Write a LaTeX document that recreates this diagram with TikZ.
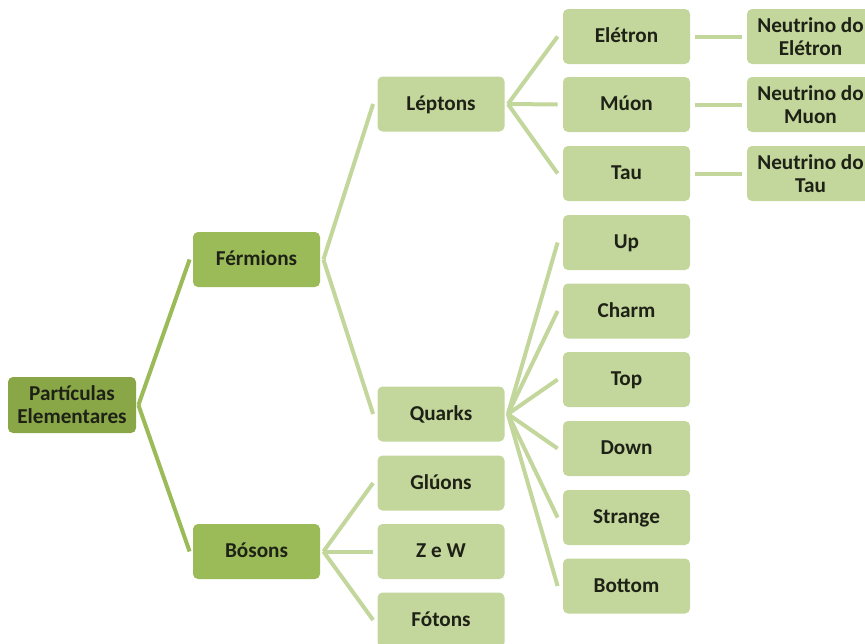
\documentclass[tikz,border=0pt]{standalone}
\usepackage{fontspec}
\setmainfont{Carlito}

\definecolor{verderaiz}{HTML}{8AA748}
\definecolor{verdemedio}{HTML}{9BBB59}
\definecolor{verdeclaro}{HTML}{C3D69B}
\definecolor{textoescuro}{HTML}{1E2116}

\tikzset{
  caixa/.style={rectangle, rounded corners=2.5pt, minimum width=63.5pt, minimum height=27.5pt,
    align=center, inner sep=1pt, text=textoescuro,
    font=\bfseries\fontsize{10.6}{11.4}\selectfont},
  raiz/.style={caixa, fill=verderaiz, minimum width=64pt, minimum height=28pt},
  ramo/.style={caixa, fill=verdemedio, text height=8pt, text depth=2pt},
  folha/.style={caixa, fill=verdeclaro, text height=8pt, text depth=2pt},
  folhadupla/.style={caixa, fill=verdeclaro},
  liga/.style={line width=2pt, draw=verdeclaro},
  ligaraiz/.style={line width=2pt, draw=verdemedio}
}

\begin{document}
\begin{tikzpicture}[x={(0.5pt,0)},y={(0,-0.5pt)}]
\useasboundingbox (0,0) rectangle (865,643);
\begin{scope}
\clip (0,0) rectangle (865,643);
% raiz e primeiro nivel
\node[raiz] (part) at (72,405) {Partículas\\Elementares};
\node[ramo] (ferm) at (256.5,259.5) {Férmions};
\node[ramo] (bos) at (256.5,551.5) {Bósons};
% segundo nivel
\node[folha] (lept) at (441,104) {Léptons};
\node[folha] (quark) at (441,414) {Quarks};
\node[folha] (gluon) at (441,483) {Glúons};
\node[folha] (zw) at (441,551.5) {Z e W};
\node[folha] (foton) at (441,620) {Fótons};
% terceiro nivel
\node[folha] (eletron) at (626.5,36.5) {Elétron};
\node[folha] (muon) at (626.5,104.5) {Múon};
\node[folha] (tau) at (626.5,173.5) {Tau};
\node[folha] (up) at (626.5,242.5) {Up};
\node[folha] (charm) at (626.5,311) {Charm};
\node[folha] (top) at (626.5,379.5) {Top};
\node[folha] (down) at (626.5,448.5) {Down};
\node[folha] (strange) at (626.5,517.5) {Strange};
\node[folha] (bottom) at (626.5,586) {Bottom};
% neutrinos
\node[folhadupla] (neleton) at (810.5,36.5) {Neutrino do\\Elétron};
\node[folhadupla] (nmuon) at (810.5,104.5) {Neutrino do\\Muon};
\node[folhadupla] (ntau) at (810.5,173.5) {Neutrino do\\Tau};

% ligacoes
\draw[ligaraiz] ([xshift=1pt]part.east) -- ([xshift=-1.5pt]ferm.west);
\draw[ligaraiz] ([xshift=1pt]part.east) -- ([xshift=-1.5pt]bos.west);
\draw[liga] ([xshift=1.5pt]ferm.east) -- ([xshift=-2pt]lept.west);
\draw[liga] ([xshift=1.5pt]ferm.east) -- ([xshift=-2pt]quark.west);
\draw[liga] ([xshift=1.5pt]bos.east) -- ([xshift=-2pt]gluon.west);
\draw[liga] ([xshift=1.5pt]bos.east) -- ([xshift=-2pt]zw.west);
\draw[liga] ([xshift=1.5pt]bos.east) -- ([xshift=-2pt]foton.west);
\draw[liga] ([xshift=1.5pt]lept.east) -- ([xshift=-2.5pt]eletron.west);
\draw[liga] ([xshift=1.5pt]lept.east) -- ([xshift=-2.5pt]muon.west);
\draw[liga] ([xshift=1.5pt]lept.east) -- ([xshift=-2.5pt]tau.west);
\draw[liga] ([xshift=1.5pt]quark.east) -- ([xshift=-2.5pt]up.west);
\draw[liga] ([xshift=1.5pt]quark.east) -- ([xshift=-2.5pt]charm.west);
\draw[liga] ([xshift=1.5pt]quark.east) -- ([xshift=-2.5pt]top.west);
\draw[liga] ([xshift=1.5pt]quark.east) -- ([xshift=-2.5pt]down.west);
\draw[liga] ([xshift=1.5pt]quark.east) -- ([xshift=-2.5pt]strange.west);
\draw[liga] ([xshift=1.5pt]quark.east) -- ([xshift=-2.5pt]bottom.west);
\draw[liga] ([xshift=2.5pt]eletron.east) -- ([xshift=-2.5pt]neleton.west);
\draw[liga] ([xshift=2.5pt]muon.east) -- ([xshift=-2.5pt]nmuon.west);
\draw[liga] ([xshift=2.5pt]tau.east) -- ([xshift=-2.5pt]ntau.west);
\end{scope}
\end{tikzpicture}
\end{document}
